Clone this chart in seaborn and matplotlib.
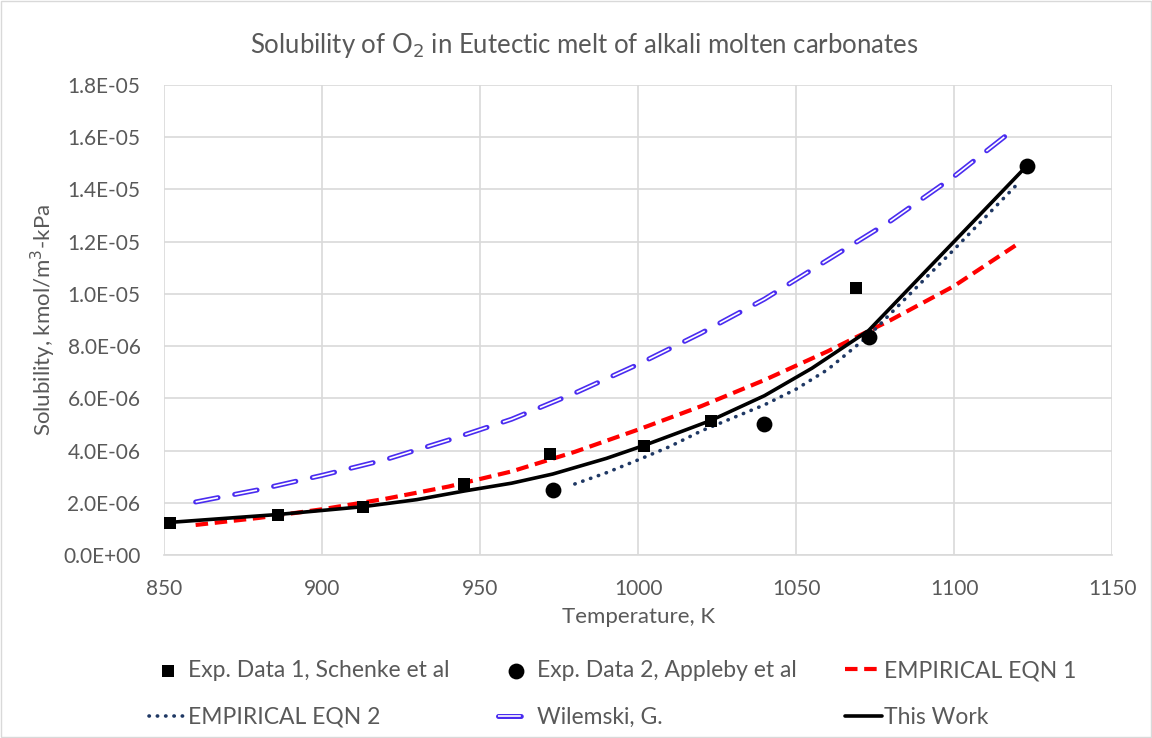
import matplotlib
matplotlib.use("Agg")
import matplotlib.pyplot as plt
from matplotlib.ticker import FuncFormatter, MultipleLocator
from matplotlib.legend_handler import HandlerTuple
import seaborn as sns

# === Data ===
exp1_T = [852, 886, 913, 945, 972, 1002, 1023, 1069]
exp1_S = [1.22e-6, 1.55e-6, 1.82e-6, 2.73e-6, 3.88e-6, 4.18e-6, 5.13e-6, 1.023e-5]

exp2_T = [973, 1040, 1073, 1123]
exp2_S = [2.47e-6, 5.0e-6, 8.33e-6, 1.488e-5]

eqn1_T = [860, 880, 900, 920, 940, 960, 980, 1000, 1020, 1040, 1060, 1080, 1100, 1120]
eqn1_S = [1.15e-6, 1.42e-6, 1.75e-6, 2.15e-6, 2.62e-6, 3.2e-6, 3.95e-6, 4.8e-6,
          5.7e-6, 6.7e-6, 7.8e-6, 9.0e-6, 1.03e-5, 1.19e-5]

eqn2_T = [980, 990, 1000, 1010, 1020, 1030, 1040, 1050, 1060, 1073, 1100, 1120]
eqn2_S = [2.72e-6, 3.15e-6, 3.64e-6, 4.15e-6, 4.75e-6, 5.25e-6, 5.75e-6, 6.35e-6,
          7.1e-6, 8.4e-6, 1.17e-5, 1.42e-5]

wil_T = [860, 880, 900, 920, 940, 960, 980, 1000, 1020, 1040, 1060, 1080, 1100, 1120]
wil_S = [2.03e-6, 2.5e-6, 3.05e-6, 3.65e-6, 4.4e-6, 5.2e-6, 6.2e-6, 7.3e-6,
         8.5e-6, 9.8e-6, 1.13e-5, 1.28e-5, 1.45e-5, 1.64e-5]

work_T = [852, 886, 913, 930, 945, 960, 973, 990, 1002, 1012, 1023, 1040, 1055, 1073, 1123]
work_S = [1.25e-6, 1.55e-6, 1.85e-6, 2.12e-6, 2.45e-6, 2.75e-6, 3.1e-6, 3.7e-6, 4.2e-6,
          4.65e-6, 5.15e-6, 6.1e-6, 7.15e-6, 8.6e-6, 1.49e-5]

sns.set_theme(style="white")
plt.rcParams['font.family'] = ['Lato', 'DejaVu Sans']
txt = "#595959"
grid = "#d9d9d9"

fig = plt.figure(figsize=(11.52, 7.38), dpi=100)
ax = fig.add_axes([0.1424, 0.248, 0.8229, 0.6368])

# === Lines ===
# Wilemski: double line = blue dashed outline with a white dashed core
sns.lineplot(x=wil_T, y=wil_S, ax=ax, color="#4a2cf0", linewidth=3.6, sort=False,
             linestyle=(0, (4.56, 3.39)), dash_capstyle="round", zorder=3, legend=False)
sns.lineplot(x=wil_T, y=wil_S, ax=ax, color="white", linewidth=1.2, sort=False,
             linestyle=(0, (13.67, 10.17)), zorder=3.1, legend=False)
wil_blue, wil_white = ax.lines[-2], ax.lines[-1]

sns.lineplot(x=eqn1_T, y=eqn1_S, ax=ax, color="#ff0000", linewidth=3, sort=False,
             linestyle=(0, (3, 1.6)), zorder=4, legend=False)
eqn1_line = ax.lines[-1]
sns.lineplot(x=eqn2_T, y=eqn2_S, ax=ax, color="#1f3864", linewidth=2.6, sort=False,
             linestyle=(0, (0.1, 2.2)), dash_capstyle="round", zorder=4, legend=False)
eqn2_line = ax.lines[-1]
sns.lineplot(x=work_T, y=work_S, ax=ax, color="black", linewidth=2.6, sort=False,
             zorder=5, legend=False)
work_line = ax.lines[-1]

# === Points ===
sns.scatterplot(x=exp1_T, y=exp1_S, ax=ax, marker="s", s=85, color="black",
                edgecolor="black", linewidth=0, zorder=6)
sns.scatterplot(x=exp2_T, y=exp2_S, ax=ax, marker="o", s=130, color="black",
                edgecolor="black", linewidth=0, zorder=6)
exp1_pts, exp2_pts = ax.collections[-2], ax.collections[-1]

# === Axes ===
ax.set_xlim(850, 1150)
ax.set_ylim(0, 1.8e-5)
ax.xaxis.set_major_locator(MultipleLocator(50))
ax.yaxis.set_major_locator(MultipleLocator(2e-6))
ax.yaxis.set_major_formatter(FuncFormatter(lambda v, p: f"{v:.1E}"))
ax.grid(True, color=grid, linewidth=1.2)
ax.set_axisbelow(True)
for s in ["top", "right", "left"]:
    ax.spines[s].set_visible(False)
ax.spines["bottom"].set_color(grid)
ax.spines["bottom"].set_linewidth(1.2)
ax.tick_params(axis="both", colors=txt, labelsize=15, length=0)
ax.tick_params(axis="y", pad=17)
ax.tick_params(axis="x", pad=17)
ax.set_xlabel("Temperature, K", color=txt, fontsize=16, labelpad=6)
ax.set_ylabel("Solubility, kmol/m$^3$-kPa", color=txt, fontsize=16, labelpad=4)
fig.text(0.507, 1 - 45 / 738, "Solubility of O$_2$ in Eutectic melt of alkali molten carbonates",
         color=txt, fontsize=18.5, ha="center", va="center")

# === Legend (row-major order) ===
handles = [exp1_pts, eqn2_line, exp2_pts, (wil_blue, wil_white), eqn1_line, work_line]
labels = ["Exp. Data 1, Schenke et al", "EMPIRICAL EQN 2",
          "Exp. Data 2, Appleby et al", "Wilemski, G.",
          "EMPIRICAL EQN 1", "This Work"]
leg = fig.legend(handles, labels, ncol=3, loc="upper center",
                 bbox_to_anchor=(0.532, 0.133), frameon=False, fontsize=16.5,
                 columnspacing=2.1, handlelength=1.6, handletextpad=0.1,
                 labelspacing=1.1, handler_map={tuple: HandlerTuple(ndivide=1)})
for t in leg.get_texts():
    t.set_color(txt)

# figure border
fig.patches.append(plt.Rectangle((0.001, 0.001), 0.998, 0.998, transform=fig.transFigure,
                                 fill=False, edgecolor=grid, linewidth=1))

fig.savefig("out.png", dpi=100)
